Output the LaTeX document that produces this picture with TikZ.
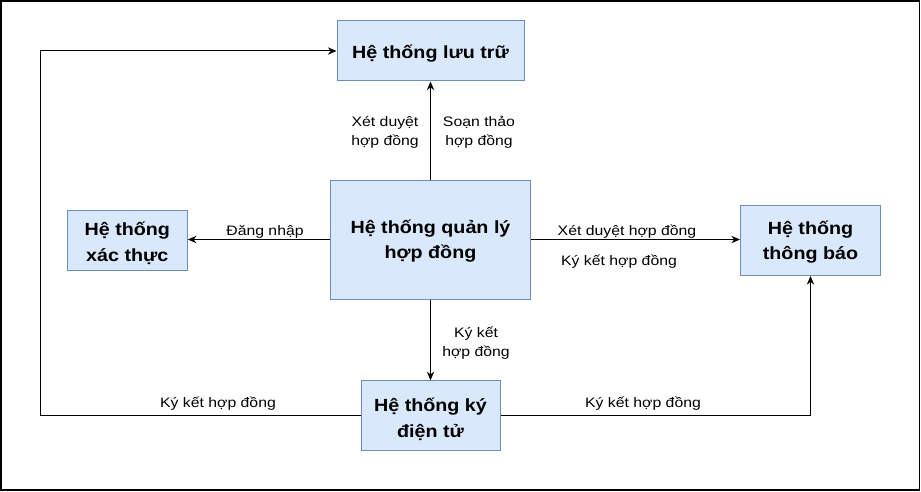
\documentclass[tikz,border=0pt]{standalone}
\usepackage{fontspec}
\newfontfamily\lblfont[FakeStretch=1.15]{Liberation Sans}
\newfontfamily\ttlfont[FakeStretch=1.12]{Liberation Sans}
\usetikzlibrary{arrows.meta}
\definecolor{boxfill}{HTML}{DAE8FC}
\definecolor{boxdraw}{HTML}{6C8EBF}
\tikzset{
  sysbox/.style={draw=boxdraw, fill=boxfill, line width=0.75pt, inner sep=0pt},
  ttl/.style={inner sep=0pt, anchor=base, align=center,
    font=\ttlfont\bfseries\fontsize{13.2}{19.1}\selectfont},
  lbl/.style={inner sep=0pt, anchor=base, align=center,
    font=\lblfont\fontsize{10.3}{14.1}\selectfont},
  arr/.style={draw=black, line width=0.75pt, -{Stealth[length=6.5pt,width=5.5pt]}},
}
\begin{document}
\begin{tikzpicture}[x=0.75pt,y=-0.75pt]
\useasboundingbox (0,0) rectangle (921,492);
\draw[line width=1.2pt] (0.8,0.8) rectangle (919.5,490);
% boxes
\node[sysbox, minimum width=140.25pt, minimum height=45pt] (store) at (430.5,51) {};
\node[sysbox, minimum width=150pt, minimum height=89.25pt] (main) at (430.5,239.5) {};
\node[sysbox, minimum width=90pt, minimum height=45pt] (auth) at (127.3,240) {};
\node[sysbox, minimum width=105pt, minimum height=52.5pt] (notif) at (810.5,240.5) {};
\node[sysbox, minimum width=104.25pt, minimum height=52.5pt] (esign) at (430.5,415.8) {};
% box titles (anchor=base is the baseline of the last line)
\node[ttl] (storeT) at (430.5,58.3) {Hệ thống lưu trữ};
\node[ttl] (mainT) at (430.5,258.8) {Hệ thống quản lý\\hợp đồng};
\node[ttl] (authT) at (127.3,261.2) {Hệ thống\\xác thực};
\node[ttl] (notifT) at (810.5,259.8) {Hệ thống\\thông báo};
\node[ttl] (esignT) at (430.5,437.2) {Hệ thống ký\\điện tử};
% connectors
\coordinate (lc) at (40.5,415.8);
\draw[arr] (main.north) -- (store.south);
\draw[arr] (main.west) -- (main.west -| auth.east);
\draw[arr] (main.east) -- (main.east -| notif.west);
\draw[arr] (main.south) -- (esign.north);
\draw[arr] (esign.west) -- (lc) |- (store.west);
\draw[arr] (esign.east) -| (notif.south);
% connector labels
\node[lbl] (l1) at (385,145.5) {Xét duyệt\\hợp đồng};
\node[lbl] (l2) at (479,145.5) {Soạn thảo\\hợp đồng};
\node[lbl] (l3) at (265,235.7) {Đăng nhập};
\node[lbl] (l4) at (627,235.7) {Xét duyệt hợp đồng};
\node[lbl] (l5) at (619,265) {Ký kết hợp đồng};
\node[lbl] (l6) at (476,356.1) {Ký kết\\hợp đồng};
\node[lbl] (l7) at (218,407.3) {Ký kết hợp đồng};
\node[lbl] (l8) at (643,407.3) {Ký kết hợp đồng};
\end{tikzpicture}
\end{document}
